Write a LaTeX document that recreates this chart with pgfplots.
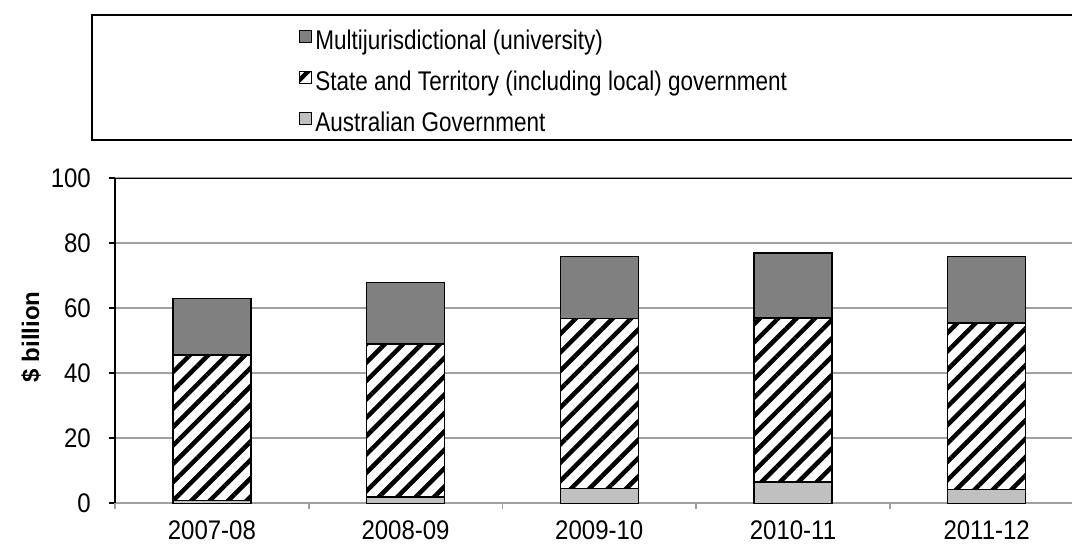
\documentclass[border=0pt]{standalone}
\usepackage{fontspec}
\setmainfont{Liberation Sans}
\usepackage{graphicx}
\usepackage{pgfplots}
\pgfplotsset{compat=1.18}
\usetikzlibrary{patterns.meta}

% Outlay by level of government, $ billion
\pgfplotstableread{
x  aus   state  multi
0  0.9   44.7   17.4
1  1.9   47.1   19.0
2  4.6   52.2   19.2
3  6.6   50.4   20.0
4  4.3   51.1   20.6
}\outlays

\definecolor{gridgray}{RGB}{160,160,160}
\definecolor{multigray}{RGB}{128,128,128}
\definecolor{ausgray}{RGB}{192,192,192}

\tikzset{
  stripes/.style={fill=white,
    postaction={pattern={Lines[angle=45,distance=13bp,line width=4.5bp]},
                pattern color=black}},
}
\newcommand{\tall}[1]{\scalebox{1}[1.12]{#1}}
\newcommand{\legtxt}[1]{\scalebox{1}[1.2]{#1}}

\begin{document}
\begin{tikzpicture}[x=1bp,y=1bp]
\begin{axis}[
  at={(115bp,41.7bp)}, anchor=south west,
  scale only axis,
  width=968.5bp, height=325bp,
  xmin=-0.5, xmax=4.5,
  ymin=0, ymax=100,
  ybar stacked, bar width=78bp,
  axis x line*=bottom, axis y line*=left,
  x axis line style={-, draw=gridgray, line width=1.6bp},
  y axis line style={-, draw=black, line width=1.8bp},
  ymajorgrids, grid style={draw=gridgray, line width=1.6bp},
  ytick={0,20,...,100},
  yticklabel={\tall{\pgfmathprintnumber{\tick}}},
  xtick={0,...,4},
  xticklabels={\tall{2007-08},\tall{2008-09},\tall{2009-10},\tall{2010-11},\tall{2011-12}},
  major x tick style={draw=none},
  extra x ticks={-0.5,0.5,1.5,2.5,3.5},
  extra x tick labels={},
  extra x tick style={major x tick style={draw=gridgray, line width=1.6bp}, tick align=outside},
  ytick style={draw=black, line width=1.6bp},
  tick align=outside,
  major tick length=6bp,
  /pgf/number format/assume math mode=true,
  ticklabel style={font=\fontsize{24bp}{28bp}\selectfont},
  yticklabel style={anchor=east, inner sep=0pt, xshift=-18bp},
  xticklabel style={anchor=base, inner sep=0pt, yshift=-30bp},
  every axis plot/.append style={draw=black, line width=1.5bp},
  reverse legend,
  legend cell align=left,
  legend image code/.code={\draw[#1, line width=1.2bp] (0bp,0bp) rectangle (12bp,12bp);},
  legend style={draw=none, fill=none, at={(0.190,1.4584)}, anchor=north west,
    inner sep=0pt, row sep=15bp,
    font=\fontsize{22.5bp}{26bp}\selectfont,
    nodes={inner sep=0pt, text height=20bp, text depth=6bp},
    /tikz/every odd column/.style={column sep=3bp}},
]
\addplot[fill=ausgray] table[x=x, y=aus] {\outlays};
\addlegendentry{\legtxt{Australian Government}}
\addplot[stripes] table[x=x, y=state] {\outlays};
\addlegendentry{\legtxt{State and Territory (including local) government}}
\addplot[fill=multigray] table[x=x, y=multi] {\outlays};
\addlegendentry{\legtxt{Multijurisdictional (university)}}
\draw[black, line width=1.8bp] (rel axis cs:0,1) -- (rel axis cs:1,1);
\end{axis}
% legend frame
\draw[black, line width=1.8bp] (92,405) rectangle (1100,530);
% y axis title
\node[rotate=90, font=\fontsize{24bp}{28bp}\selectfont\bfseries] at (31,208) {\$ billion};
\pgfresetboundingbox
\path[use as bounding box] (0,0) rectangle (1072,545);
\end{tikzpicture}
\end{document}
